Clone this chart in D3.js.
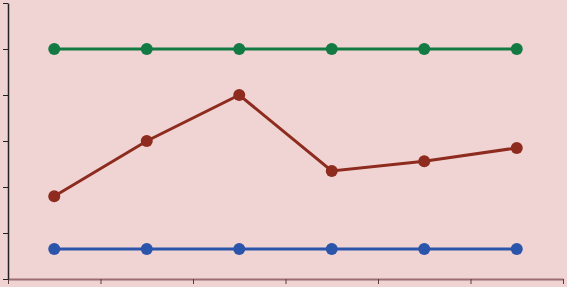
<!DOCTYPE html>
<html>
<head>
<meta charset="utf-8">
<script src="https://cdn.jsdelivr.net/npm/d3@7"></script>
<style>
  body { margin: 0; background: #f0d4d4; }
  svg { display: block; }
</style>
</head>
<body>
<svg id="chart" width="567" height="287"></svg>
<script>
const categories = ["1", "2", "3", "4", "5", "6"];
const yTicks = [0, 1, 2, 3, 4, 5, 6];
const greenValues = [5, 5, 5, 5, 5, 5];
const redValues = [1.8, 3.0, 4.0, 2.35, 2.56, 2.85];
const blueValues = [0.65, 0.65, 0.65, 0.65, 0.65, 0.65];

const series = [
  { name: "green", color: "#137a43", values: greenValues },
  { name: "red", color: "#8e2b1f", values: redValues },
  { name: "blue", color: "#2b54ab", values: blueValues }
];

const margin = { top: 3, right: 4, bottom: 8, left: 8 };
const width = 567 - margin.left - margin.right;
const height = 287 - margin.top - margin.bottom;

const svg = d3.select("#chart");
svg.append("rect").attr("width", 567).attr("height", 287).attr("fill", "#f0d4d4");

const g = svg.append("g").attr("transform", `translate(${margin.left},${margin.top})`);

const x = d3.scaleBand().domain(categories).range([0, width]);
const y = d3.scaleLinear().domain([0, 6]).range([height, 0]);

// x axis
const xAxis = g.append("g")
  .attr("transform", `translate(0,${height})`)
  .call(d3.axisBottom(x).tickSize(0).tickFormat(""));
xAxis.select(".domain").attr("stroke", "#9a6d70").attr("stroke-width", 2);
xAxis.selectAll(".xtick")
  .data(d3.range(categories.length + 1))
  .enter().append("line")
  .attr("x1", i => i * x.step() + 0.5)
  .attr("x2", i => i * x.step() + 0.5)
  .attr("y1", 0).attr("y2", 5)
  .attr("stroke", "#5a3a3c");

// y axis
const yAxis = g.append("g")
  .call(d3.axisLeft(y).tickValues(yTicks).tickSize(5).tickSizeOuter(0).tickFormat(""));
yAxis.select(".domain").attr("stroke", "#222").attr("stroke-width", 1.5);
yAxis.selectAll(".tick line").attr("stroke", "#222");

const line = d3.line()
  .x((d, i) => x(categories[i]) + x.bandwidth() / 2)
  .y(d => y(d));

series.forEach(s => {
  g.append("path")
    .datum(s.values)
    .attr("fill", "none")
    .attr("stroke", s.color)
    .attr("stroke-width", 3)
    .attr("d", line);
  g.selectAll(".pt-" + s.name)
    .data(s.values)
    .enter().append("circle")
    .attr("class", "pt-" + s.name)
    .attr("cx", (d, i) => x(categories[i]) + x.bandwidth() / 2)
    .attr("cy", d => y(d))
    .attr("r", 6)
    .attr("fill", s.color);
});
</script>
</body>
</html>
